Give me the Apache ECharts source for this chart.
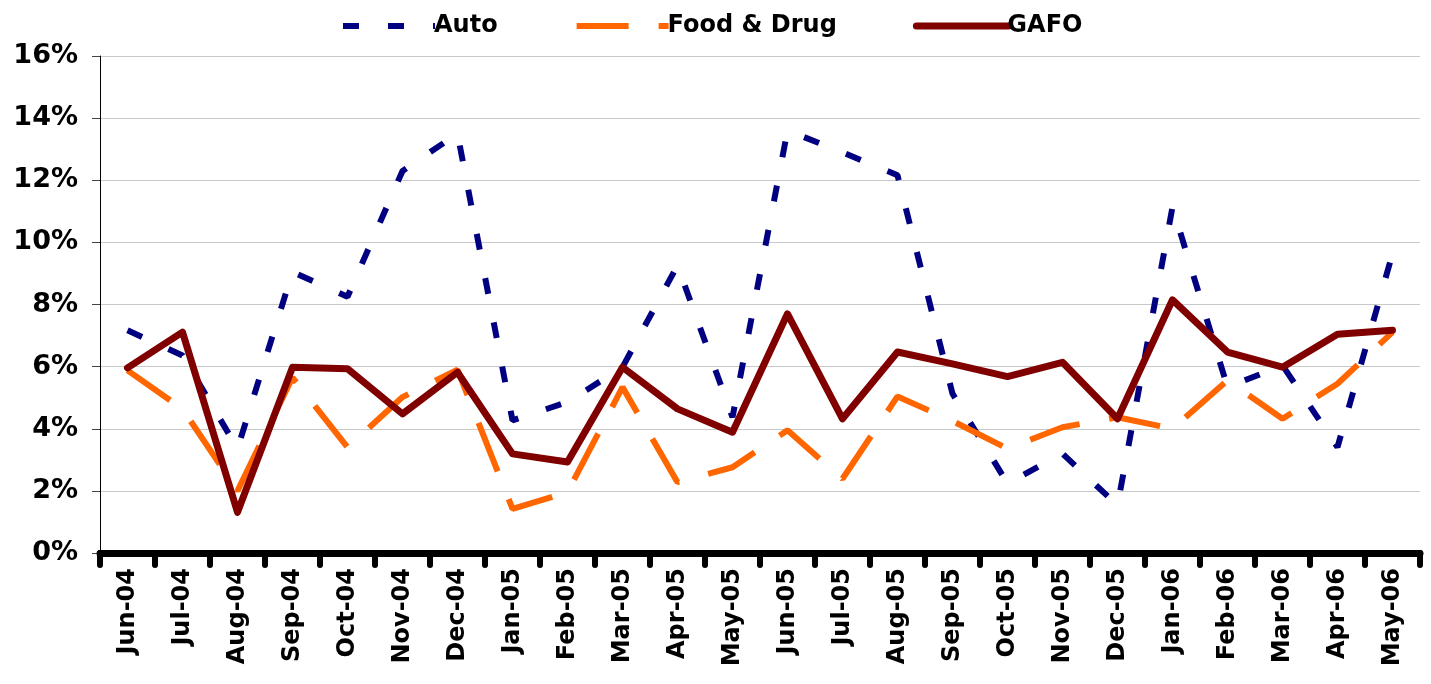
<!DOCTYPE html>
<html>
<head>
<meta charset="utf-8">
<script src="https://cdn.jsdelivr.net/npm/echarts@6/dist/echarts.min.js"></script>
<style>
  html, body { margin: 0; padding: 0; background: #fff; }
  #main { width: 1431px; height: 684px; }
</style>
</head>
<body>
<div id="main"></div>
<script>
// monthly % change, Jun-04 .. May-06
var months = ['Jun-04', 'Jul-04', 'Aug-04', 'Sep-04', 'Oct-04', 'Nov-04', 'Dec-04',
    'Jan-05', 'Feb-05', 'Mar-05', 'Apr-05', 'May-05', 'Jun-05', 'Jul-05', 'Aug-05',
    'Sep-05', 'Oct-05', 'Nov-05', 'Dec-05', 'Jan-06', 'Feb-06', 'Mar-06', 'Apr-06', 'May-06'];

var auto = [7.17, 6.36, 3.36, 9.05, 8.25, 12.3, 13.5, 4.27, 4.86, 5.98, 9.26, 4.37,
    13.6, 12.9, 12.16, 5.13, 2.24, 3.2, 1.53, 11.14, 5.34, 6.04, 3.41, 9.64];

var foodDrug = [5.88, 4.64, 2.0, 5.65, 3.4, 5.02, 5.9, 1.42, 1.96, 5.34, 2.28, 2.76,
    3.95, 2.39, 5.04, 4.25, 3.36, 4.05, 4.37, 4.0, 5.56, 4.32, 5.45, 7.11];

var gafo = [5.96, 7.11, 1.31, 5.98, 5.93, 4.48, 5.82, 3.19, 2.93, 5.98, 4.64, 3.89,
    7.70, 4.32, 6.47, 6.09, 5.68, 6.14, 4.32, 8.15, 6.47, 5.98, 7.04, 7.17];

var font = 'DejaVu Sans, Verdana, sans-serif';

var myChart = echarts.init(document.getElementById('main'));

var option = {
    animation: false,
    backgroundColor: '#fff',
    legend: {
        top: 9,
        left: 335,
        itemWidth: 92,
        itemHeight: 14,
        itemGap: 76,
        itemStyle: { opacity: 0 },
        textStyle: { fontFamily: font, fontWeight: 'bold', fontSize: 24, color: '#000', padding: [0, 0, 0, -6] },
        data: [
            { name: 'Auto', lineStyle: { width: 6 } },
            { name: 'Food & Drug', lineStyle: { width: 6 } },
            { name: 'GAFO', lineStyle: { width: 7 } }
        ]
    },
    grid: {
        left: 100,
        right: 11,
        top: 56,
        bottom: 131
    },
    xAxis: {
        type: 'category',
        data: months,
        boundaryGap: true,
        axisLine: { lineStyle: { color: '#000', width: 7 } },
        axisTick: { show: true, inside: false, length: 12, lineStyle: { color: '#000', width: 6, cap: 'round' } },
        axisLabel: {
            rotate: 90,
            margin: 15,
            fontFamily: font,
            fontWeight: 'bold',
            fontSize: 24,
            color: '#000',
            interval: 0
        }
    },
    yAxis: {
        type: 'value',
        min: 0,
        max: 16,
        interval: 2,
        axisLine: { show: true, lineStyle: { color: '#000', width: 1 } },
        axisTick: { show: true, length: 8, lineStyle: { color: '#444' } },
        axisLabel: {
            formatter: '{value}%',
            margin: 22,
            fontFamily: font,
            fontWeight: 'bold',
            fontSize: 27,
            color: '#000'
        },
        splitLine: { lineStyle: { color: '#c8c8c8', width: 1 } }
    },
    series: [
        {
            name: 'Auto',
            type: 'line',
            data: auto,
            symbol: 'none',
            color: '#000080',
            lineStyle: { color: '#000080', width: 6, type: [16, 29], cap: 'butt' }
        },
        {
            name: 'Food & Drug',
            type: 'line',
            data: foodDrug,
            symbol: 'none',
            color: '#ff6600',
            lineStyle: { color: '#ff6600', width: 6, type: [52, 30], cap: 'butt' }
        },
        {
            name: 'GAFO',
            type: 'line',
            data: gafo,
            symbol: 'none',
            color: '#800000',
            lineStyle: { color: '#800000', width: 7, cap: 'round', join: 'round' }
        }
    ]
};

myChart.setOption(option);
</script>
</body>
</html>
